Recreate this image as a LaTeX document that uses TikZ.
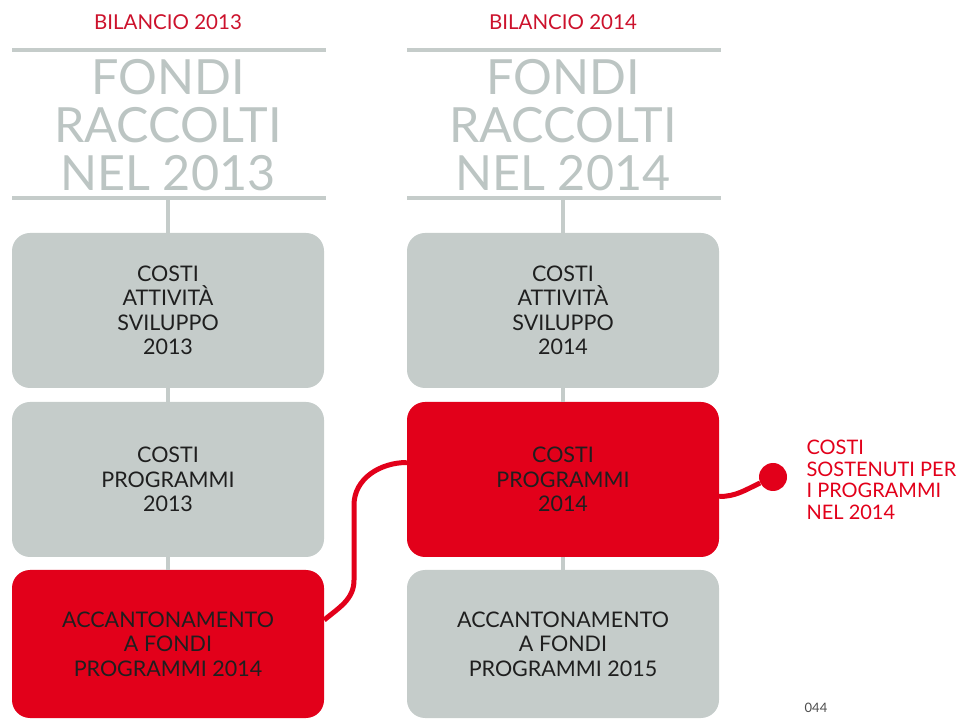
\documentclass[tikz,border=0pt]{standalone}
\usepackage{fontspec}
\setmainfont{Lato}

\definecolor{boxgray}{RGB}{197,204,202}
\definecolor{titlegray}{RGB}{188,197,195}
\definecolor{bilred}{RGB}{226,0,26}
\definecolor{headred}{RGB}{204,18,44}

\begin{document}
\begin{tikzpicture}[x=1pt, y=1pt,
    box/.style={rounded corners=18pt, minimum width=312pt, inner sep=0pt,
        align=center, font=\fontsize{21.5}{24.5}\selectfont, text=black!88},
    greybox/.style={box, fill=boxgray},
    redbox/.style={box, fill=bilred},
    rule/.style={boxgray, line width=4pt},
    link/.style={bilred, line width=5pt},
    heading/.style={headred, font=\fontsize{20.5}{22}\selectfont},
    bigtitle/.style={titlegray, align=center, font=\fontsize{48.5}{48}\selectfont}]

\useasboundingbox (0,0) rectangle (958,720);

% Define column centres
\def\colA{168}
\def\colB{563}

% --- Headings and titles ---
\node[heading] (headA) at (\colA,698) {BILANCIO 2013};
\node[heading] (headB) at (\colB,698) {BILANCIO 2014};

\draw[rule] (12,670) -- (326,670);
\draw[rule] (407,670) -- (721,670);
\node[bigtitle] (fondiA) at (\colA,595) {FONDI\\RACCOLTI\\NEL 2013};
\node[bigtitle] (fondiB) at (\colB,595) {FONDI\\RACCOLTI\\NEL 2014};
\draw[rule] (12,522) -- (326,522);
\draw[rule] (407,522) -- (721,522);
\coordinate (baseA) at (\colA,522);
\coordinate (baseB) at (\colB,522);

% --- Boxes ---
\node[greybox, minimum height=155pt] (svilA) at (\colA,409.5) {COSTI\\ATTIVITÀ\\SVILUPPO\\2013};
\node[greybox, minimum height=155pt] (progA) at (\colA,240.5) {COSTI\\PROGRAMMI\\2013};
\node[redbox, minimum height=148pt] (accA) at (\colA,76) {ACCANTONAMENTO\\A FONDI\\PROGRAMMI 2014};

\node[greybox, minimum height=155pt] (svilB) at (\colB,409.5) {COSTI\\ATTIVITÀ\\SVILUPPO\\2014};
\node[redbox, minimum height=155pt] (progB) at (\colB,240.5) {COSTI\\PROGRAMMI\\2014};
\node[greybox, minimum height=148pt] (accB) at (\colB,76) {ACCANTONAMENTO\\A FONDI\\PROGRAMMI 2015};

% --- Stems ---
\draw[rule] (baseA) -- (svilA.north);
\draw[rule] (svilA.south) -- (progA.north);
\draw[rule] (progA.south) -- (accA.north);
\draw[rule] (baseB) -- (svilB.north);
\draw[rule] (svilB.south) -- (progB.north);
\draw[rule] (progB.south) -- (accB.north);

% --- Red links ---
\draw[link] ([yshift=24pt]accA.east) to[out=40, in=-90] (354,140)
    -- (354,215) to[out=90, in=180] ([yshift=17pt]progB.west);
\node[circle, fill=bilred, minimum size=28pt, inner sep=0pt] (dot) at (773,243) {};
\draw[link] ([yshift=-17pt]progB.east) to[out=0, in=205] (dot);

\node[anchor=west, bilred, align=left, font=\fontsize{20}{21.5}\selectfont] (note) at (803,240)
    {COSTI\\SOSTENUTI PER\\I PROGRAMMI\\NEL 2014};

\node[black!70, font=\fontsize{13}{14}\selectfont] (page) at (816,12) {044};

\end{tikzpicture}
\end{document}
